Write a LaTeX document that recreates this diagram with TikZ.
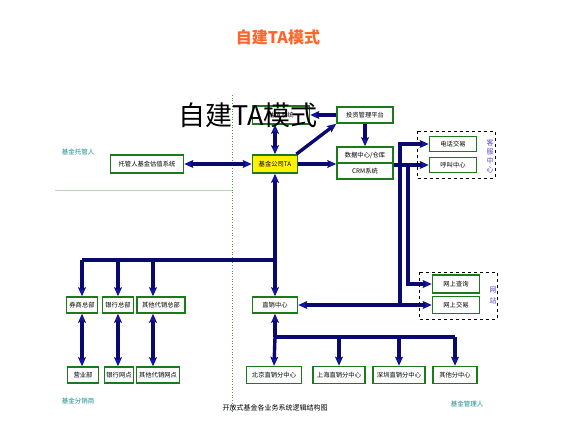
\documentclass[tikz,border=0pt]{standalone}
\usepackage{fontspec}
\newfontfamily\cjk{Noto Sans CJK SC}
\usetikzlibrary{arrows.meta,calc}
\definecolor{boxgreen}{RGB}{28,122,28}
\definecolor{navyline}{RGB}{10,10,110}
\definecolor{arrowblue}{RGB}{20,20,200}
\definecolor{tealtext}{RGB}{20,140,140}
\definecolor{purptext}{RGB}{90,70,200}
\definecolor{titleorange}{RGB}{255,100,40}
\tikzset{
  box/.style={draw=boxgreen, line width=1.8pt, fill=white, inner sep=0pt,
    font=\cjk\fontsize{6.3}{7}\selectfont},
  conn/.style={draw=navyline, line width=3.4pt,
    >={Stealth[length=9pt,width=8pt,inset=2pt,fill=arrowblue,line width=0.7pt]}},
  grp/.style={draw=black, dashed, line width=0.9pt},
  sidelabel/.style={text=tealtext, font=\cjk\fontsize{6.5}{7}\selectfont},
  vlabel/.style={text=purptext, align=center, inner sep=0pt}
}
\begin{document}
\begin{tikzpicture}[x=1pt,y=-1pt]
\useasboundingbox (0,0) rectangle (564,436);
% guide lines
\draw[boxgreen!80, dotted, line width=0.7pt] (232,95) -- (232,412);
\draw[boxgreen!30, line width=0.3pt] (55,190) -- (232,190);
% title
\node[text=titleorange, font=\cjk\bfseries\fontsize{16}{18}\selectfont] (title) at (278,37) {自建TA模式};
% dashed groups
\draw[grp] (417,131) rectangle (495,178);
\draw[grp] (419,272) rectangle (497,319);
\node[vlabel, font=\cjk\fontsize{7}{9}\selectfont] (kf) at (490,156) {客\\服\\中\\心};
\node[vlabel, font=\cjk\fontsize{7}{11}\selectfont] (wz) at (493,296) {网\\站};
% boxes
\node[box, minimum width=57pt, minimum height=18pt] (gz) at (281,115) {估值系统};
\node[box, minimum width=56pt, minimum height=16pt] (tz) at (365,115) {投资管理平台};
\node[box, minimum width=73pt, minimum height=18pt] (tgr) at (147,164) {托管人基金估值系统};
\node[box, fill=yellow, minimum width=45pt, minimum height=18pt] (ta) at (275,164) {基金公司TA};
\node[box, minimum width=56pt, minimum height=16pt] (sj) at (365,155) {数据中心/仓库};
\node[box, minimum width=56pt, minimum height=16pt] (crm) at (365,171) {CRM系统};
\node[box, minimum width=47pt, minimum height=15pt] (dh) at (453,144) {电话交易};
\node[box, minimum width=47pt, minimum height=15pt] (hj) at (453,165) {呼叫中心};
\node[box, minimum width=47pt, minimum height=18pt] (wc) at (456,284) {网上查询};
\node[box, minimum width=47pt, minimum height=17pt] (wj) at (456,305) {网上交易};
\node[box, minimum width=45pt, minimum height=16pt] (zx) at (275,305) {直销中心};
\node[box, minimum width=31pt, minimum height=16pt] (qs) at (82,305) {券商总部};
\node[box, minimum width=31pt, minimum height=16pt] (yh) at (118,305) {银行总部};
\node[box, minimum width=48pt, minimum height=16pt] (qt) at (161,305) {其他代销总部};
\node[box, minimum width=31pt, minimum height=16pt] (yyb) at (83,375) {营业部};
\node[box, minimum width=29pt, minimum height=16pt] (yhwd) at (119,375) {银行网点};
\node[box, minimum width=43pt, minimum height=16pt] (qtwd) at (158,375) {其他代销网点};
\node[box, minimum width=55pt, minimum height=17pt] (bj) at (274,375) {北京直销分中心};
\node[box, minimum width=52pt, minimum height=17pt] (sh) at (339,375) {上海直销分中心};
\node[box, minimum width=52pt, minimum height=17pt] (sz) at (399,375) {深圳直销分中心};
\node[box, minimum width=44pt, minimum height=17pt] (qtf) at (455,375) {其他分中心};
% big overlay text (drawn over the box, as in the reference)
\node[font=\cjk\fontsize{27}{30}\selectfont, inner sep=0pt] (big) at (248,115) {自建TA模式};
% labels
\node[sidelabel] (tgrl) at (78,152) {基金托管人};
\node[sidelabel] (fxs) at (78,401) {基金分销商};
\node[sidelabel] (glr) at (467,404) {基金管理人};
\node[font=\cjk\fontsize{7}{8}\selectfont] (cap) at (275,408) {开放式基金各业务系统逻辑结构图};
% junction coordinates
\coordinate (c1) at (408,165);
\coordinate (c2) at (400,305);
\coordinate (b1) at (275,260);
\coordinate (b2) at (275,337);
% connectors
\draw[conn,<->] (tgr.east) -- (ta.west);
\draw[conn,<->] (ta.north) -- (ta.north |- gz.south);
\draw[conn,->] (tz.west) -- (gz.east);
\draw[conn,->] ([xshift=-2pt]ta.north east) -- (tz.south west);
\draw[conn,->] (tz.south) -- (sj.north);
\draw[conn,->] (ta.east) -- (ta.east -| sj.west);
\draw[conn,->] (crm.east |- hj.west) -- (hj.west);
\draw[conn,->] (c1) |- (wc.west);
\draw[conn,<->] (zx.east) -- (wj.west);
\draw[conn,->] (c2) |- (dh.west);
\draw[conn,<->] (ta.south) -- (zx.north);
\draw[conn] (b1) -- (qs.north |- b1);
\draw[conn,->] (qs.north |- b1) -- (qs.north);
\draw[conn,->] (yh.north |- b1) -- (yh.north);
\draw[conn,->] ([xshift=-8pt]qt.north |- b1) -- ([xshift=-8pt]qt.north);
\draw[conn,<->] (qs.south) -- (qs.south |- yyb.north);
\draw[conn,<->] (yh.south) -- (yh.south |- yhwd.north);
\draw[conn,<->] ([xshift=-8pt]qt.south) -- ([xshift=-8pt]qt.south |- qtwd.north);
\draw[conn,<-] (zx.south) -- (b2);
\draw[conn] (b2) -- (b2 -| qtf.north);
\draw[conn,->] (b2) -- (bj.north);
\draw[conn,->] (b2 -| sh.north) -- (sh.north);
\draw[conn,->] (b2 -| sz.north) -- (sz.north);
\draw[conn,->] (b2 -| qtf.north) -- (qtf.north);
\end{tikzpicture}
\end{document}
